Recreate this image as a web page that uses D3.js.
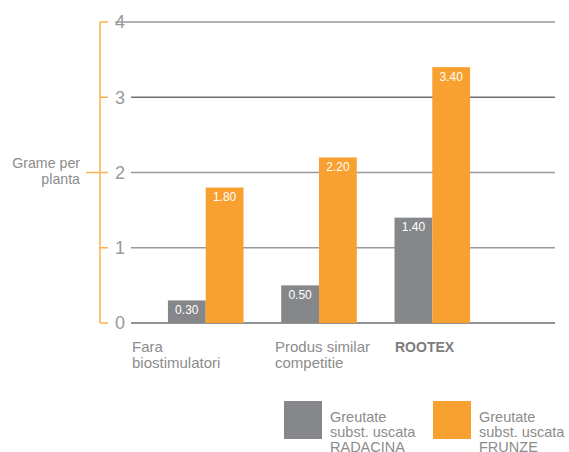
<!DOCTYPE html>
<html>
<head>
<meta charset="utf-8">
<script src="https://cdn.jsdelivr.net/npm/d3@7/dist/d3.min.js"></script>
<style>
  html, body { margin: 0; padding: 0; background: #fff; }
  svg { display: block; font-family: "Liberation Sans", Arial, sans-serif; }
</style>
</head>
<body>
<svg id="chart" width="569" height="452"></svg>
<script>
const categories = ["Fara biostimulatori", "Produs similar competitie", "ROOTEX"];
const categoryLines = [["Fara", "biostimulatori"], ["Produs similar", "competitie"], ["ROOTEX"]];
const series = ["radacina", "frunze"];
const radacina = [0.30, 0.50, 1.40];
const frunze = [1.80, 2.20, 3.40];
const yTicks = [0, 1, 2, 3, 4];
const legendLabels = [["Greutate", "subst. uscata", "RADACINA"], ["Greutate", "subst. uscata", "FRUNZE"]];
const yTitle = ["Grame per", "planta"];

const colors = { radacina: "#86878b", frunze: "#f8a130" };
const textGrey = "#8c8c8c";
const axisOrange = "#f8b050";

const svg = d3.select("#chart");

const y = d3.scaleLinear().domain([0, 4]).range([323, 22]);
const x0 = d3.scaleBand().domain(categories).range([149, 489]).paddingInner(0.333).paddingOuter(0.167);
const x1 = d3.scaleBand().domain(series).range([0, x0.bandwidth()]);

// gridlines
svg.append("g").selectAll("line").data(yTicks).join("line")
  .attr("x1", (d) => (d === 4 ? 115 : 131))
  .attr("x2", 555)
  .attr("y1", (d) => y(d)).attr("y2", (d) => y(d))
  .attr("stroke", (d) => (d === 0 || d === 3 ? "#6e6e6e" : "#9a9a9a"))
  .attr("stroke-width", 1.3);

// orange axis
const ax = svg.append("g");
ax.append("line").attr("x1", 100).attr("x2", 100).attr("y1", y(4)).attr("y2", y(0))
  .attr("stroke", axisOrange).attr("stroke-width", 1.5);
ax.selectAll("line.tick").data(yTicks).join("line").attr("class", "tick")
  .attr("x1", (d) => (d === 2 ? 86 : 100)).attr("x2", 108)
  .attr("y1", (d) => y(d)).attr("y2", (d) => y(d))
  .attr("stroke", axisOrange).attr("stroke-width", 1.5);
ax.selectAll("text").data(yTicks).join("text")
  .attr("x", 120).attr("y", (d) => y(d)).attr("dy", "0.36em")
  .attr("text-anchor", "middle")
  .attr("fill", "#9a9a9a").attr("font-size", 18)
  .text((d) => d);

// y title
svg.append("text").attr("x", 80).attr("y", 168).attr("text-anchor", "end")
  .attr("fill", textGrey).attr("font-size", 14.2)
  .selectAll("tspan").data(yTitle).join("tspan")
  .attr("x", 80).attr("dy", (d, i) => (i ? 16 : 0)).text((d) => d);

// bars
const rows = categories.map((c, i) => ({ cat: c, values: [
  { key: "radacina", v: radacina[i] }, { key: "frunze", v: frunze[i] }] }));
const groups = svg.append("g").selectAll("g").data(rows).join("g")
  .attr("transform", (d) => `translate(${x0(d.cat)},0)`);
groups.selectAll("rect").data((d) => d.values).join("rect")
  .attr("x", (d) => x1(d.key)).attr("width", x1.bandwidth())
  .attr("y", (d) => y(d.v)).attr("height", (d) => y(0) - y(d.v))
  .attr("fill", (d) => colors[d.key]);
groups.selectAll("text").data((d) => d.values).join("text")
  .attr("x", (d) => x1(d.key) + x1.bandwidth() / 2)
  .attr("y", (d) => y(d.v) + 13.5)
  .attr("text-anchor", "middle").attr("fill", "#fff").attr("font-size", 12)
  .text((d) => d.v.toFixed(2));

// category labels
const labelX = [132, 275, 395];
svg.append("g").selectAll("text").data(categoryLines).join("text")
  .attr("y", 352)
  .attr("fill", (d, i) => (i === 2 ? "#7d7d7d" : textGrey))
  .attr("font-size", (d, i) => (i === 2 ? 14 : 15))
  .attr("font-weight", (d, i) => (i === 2 ? "bold" : "normal"))
  .each(function (lines, i) {
    d3.select(this).selectAll("tspan").data(lines).join("tspan")
      .attr("x", labelX[i]).attr("dy", (d, j) => (j ? 16 : 0)).text((d) => d);
  });

// legend (third line runs off the bottom edge, as in the original)
const legendX = [284, 433];
const lg = svg.append("g").selectAll("g").data(series).join("g")
  .attr("transform", (d, i) => `translate(${legendX[i]},401)`);
lg.append("rect").attr("width", 38).attr("height", 38).attr("fill", (d) => colors[d]);
lg.append("text").attr("fill", textGrey).attr("font-size", 14.5)
  .each(function (d, i) {
    d3.select(this).selectAll("tspan").data(legendLabels[i]).join("tspan")
      .attr("x", 46).attr("y", (t, j) => 20.5 + j * 15).text((t) => t);
  });
</script>
</body>
</html>
